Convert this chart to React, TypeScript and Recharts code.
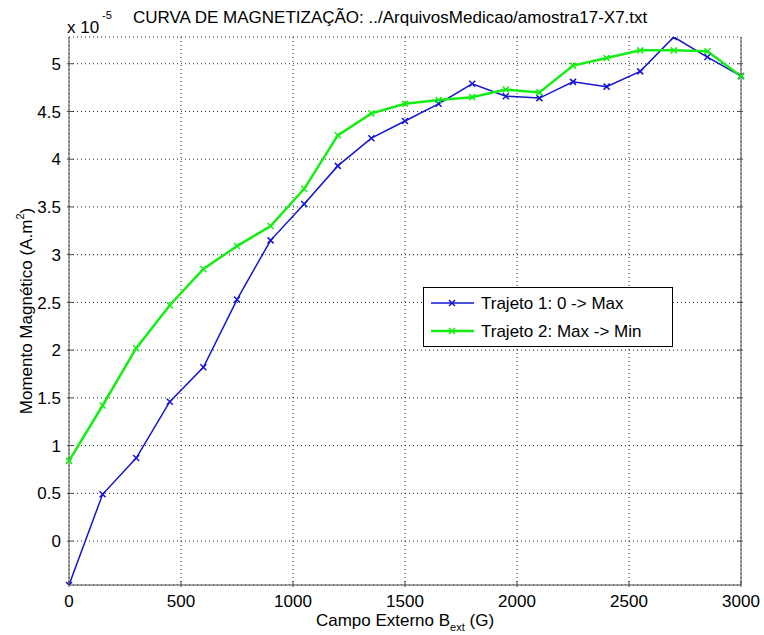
import { CartesianGrid, Legend, Line, LineChart, XAxis, YAxis } from "recharts";

// campo externo (G) e momento magnético (x 10^-5 A.m²)
const campo = [0, 150, 300, 450, 600, 750, 900, 1050, 1200, 1350, 1500, 1650, 1800, 1950, 2100, 2250, 2400, 2550, 2700, 2850, 3000];
const trajeto1 = [-0.46, 0.49, 0.87, 1.46, 1.82, 2.53, 3.15, 3.53, 3.93, 4.22, 4.4, 4.58, 4.79, 4.66, 4.64, 4.81, 4.76, 4.92, 5.28, 5.07, 4.87];
const trajeto2 = [0.84, 1.42, 2.02, 2.47, 2.85, 3.09, 3.3, 3.69, 4.25, 4.48, 4.58, 4.62, 4.65, 4.73, 4.7, 4.98, 5.06, 5.14, 5.14, 5.13, 4.87];
const xTicks = [0, 500, 1000, 1500, 2000, 2500, 3000];
const yTicks = [0, 0.5, 1, 1.5, 2, 2.5, 3, 3.5, 4, 4.5, 5];

const BLUE = "#1414d2";
const GREEN = "#14ee14";
const AXIS = "#4a4a4a";
const FONT = '"Liberation Sans", Arial, Helvetica, sans-serif';

const data = campo.map((b, i) => ({ b, t1: trajeto1[i], t2: trajeto2[i] }));
const yMin = Math.min(...trajeto1, ...trajeto2);
const yMax = Math.max(...trajeto1, ...trajeto2);

function LeftTick({ x, y, payload }: any) {
  return (
    <g>
      <line x1={x} x2={x + 6} y1={y} y2={y} stroke={AXIS} />
      <text x={x - 6} y={y} dy="0.36em" textAnchor="end" fontSize={17} fontFamily={FONT} fill="#000">
        {String(payload.value)}
      </text>
    </g>
  );
}

function BottomTick({ x, y, payload }: any) {
  return (
    <g>
      <line x1={x} x2={x} y1={y} y2={y - 6} stroke={AXIS} />
      <text x={x} y={y + 20} textAnchor="middle" fontSize={17} fontFamily={FONT} fill="#000">
        {String(payload.value)}
      </text>
    </g>
  );
}

function RightTick({ x, y }: any) {
  return <line x1={x} x2={x - 6} y1={y} y2={y} stroke={AXIS} />;
}

function TopTick({ x, y }: any) {
  return <line x1={x} x2={x} y1={y} y2={y + 6} stroke={AXIS} />;
}

function xMark(color: string) {
  return (props: any) => {
    const { cx, cy, index } = props;
    if (cx == null || cy == null) return <g key={index} />;
    const s = 3;
    return (
      <path
        key={index}
        d={`M${cx - s},${cy - s}L${cx + s},${cy + s}M${cx - s},${cy + s}L${cx + s},${cy - s}`}
        stroke={color}
        strokeWidth={1.5}
        fill="none"
      />
    );
  };
}

function LegendBox() {
  const rows = [
    { label: "Trajeto 1: 0 -> Max", color: BLUE, w: 1.5 },
    { label: "Trajeto 2: Max -> Min", color: GREEN, w: 2.5 },
  ];
  return (
    <svg width={250} height={60} style={{ display: "block" }}>
      <rect x={0.5} y={0.5} width={249} height={59} fill="#fff" stroke="#000" />
      {rows.map((r, i) => {
        const cy = 16 + i * 28;
        return (
          <g key={r.label}>
            <line x1={8} x2={51} y1={cy} y2={cy} stroke={r.color} strokeWidth={r.w} />
            <path d={`M26,${cy - 3}L32,${cy + 3}M26,${cy + 3}L32,${cy - 3}`} stroke={r.color} strokeWidth={1.5} />
            <text x={58} y={cy} dy="0.36em" fontSize={17} fontFamily={FONT} fill="#000">
              {r.label}
            </text>
          </g>
        );
      })}
    </svg>
  );
}

export default function App() {
  return (
    <div style={{ position: "absolute", left: 0, top: 0, width: 764, height: 635, background: "#fff" }}>
      <LineChart width={764} height={635} data={data} margin={{ top: 37, right: 0, bottom: 0, left: 0 }}>
        <CartesianGrid stroke="#222" strokeDasharray="1 3" />
        <XAxis
          dataKey="b"
          type="number"
          domain={[0, 3000]}
          ticks={xTicks}
          height={50}
          tickSize={0}
          tickLine={false}
          stroke={AXIS}
          tick={<BottomTick />}
          interval={0}
        />
        <XAxis
          xAxisId="top"
          orientation="top"
          type="number"
          domain={[0, 3000]}
          ticks={xTicks}
          height={0}
          tickSize={0}
          tickLine={false}
          stroke={AXIS}
          tick={<TopTick />}
          interval={0}
        />
        <YAxis
          type="number"
          domain={[yMin, yMax]}
          ticks={yTicks}
          width={69}
          tickSize={0}
          tickLine={false}
          stroke={AXIS}
          tick={<LeftTick />}
          interval={0}
          allowDataOverflow
        />
        <YAxis
          yAxisId="right"
          orientation="right"
          type="number"
          domain={[yMin, yMax]}
          ticks={yTicks}
          width={23}
          tickSize={0}
          tickLine={false}
          stroke={AXIS}
          tick={<RightTick />}
          interval={0}
          allowDataOverflow
        />
        <Line
          type="linear"
          dataKey="t1"
          stroke={BLUE}
          strokeWidth={1.5}
          dot={xMark(BLUE)}
          activeDot={false}
          isAnimationActive={false}
        />
        <Line
          type="linear"
          dataKey="t2"
          stroke={GREEN}
          strokeWidth={2.5}
          dot={xMark(GREEN)}
          activeDot={false}
          isAnimationActive={false}
        />
        <Legend
          layout="horizontal"
          verticalAlign="middle"
          align="center"
          content={() => <LegendBox />}
          wrapperStyle={{ left: 423, top: 287, width: 250, height: 60 }}
        />
      </LineChart>
      <svg
        width={764}
        height={635}
        style={{ position: "absolute", left: 0, top: 0, pointerEvents: "none" }}
        fontFamily={FONT}
      >
        <text x={133} y={23} fontSize={17} fill="#000">
          CURVA DE MAGNETIZAÇÃO: ../ArquivosMedicao/amostra17-X7.txt
        </text>
        <text x={67} y={33} fontSize={17} fill="#000">
          x 10
        </text>
        <text x={102} y={19} fontSize={11} fill="#000">
          -5
        </text>
        <text x={405} y={626} fontSize={17} textAnchor="middle" fill="#000">
          Campo Externo B
          <tspan fontSize={11} dy={5}>ext</tspan>
          <tspan dy={-5}> (G)</tspan>
        </text>
        <text x={32} y={311} fontSize={17} textAnchor="middle" fill="#000" transform="rotate(-90 32 311)">
          Momento Magnético (A.m
          <tspan fontSize={11} dy={-8}>2</tspan>
          <tspan dy={8}>)</tspan>
        </text>
      </svg>
    </div>
  );
}
